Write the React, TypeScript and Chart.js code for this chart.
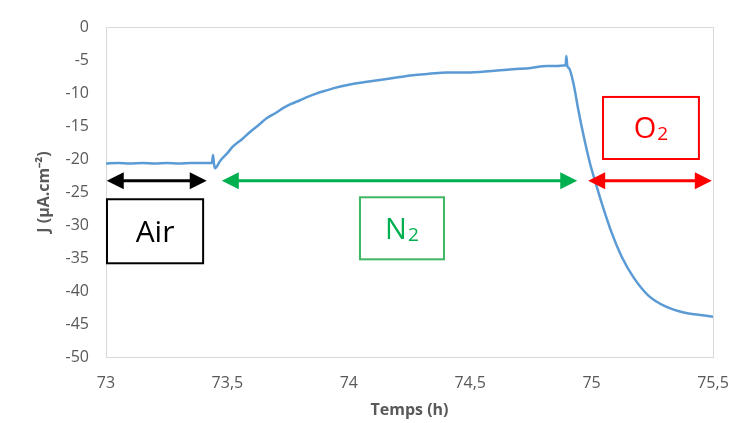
import React, { useEffect, useRef } from "react";
import { Chart, registerables } from "chart.js";

Chart.register(...registerables);

// Time (h) and current density J (µA.cm-2)
const timeH = [
  73.0, 73.05, 73.1, 73.15, 73.2, 73.25, 73.3, 73.35, 73.4, 73.436, 73.441, 73.445, 73.449,
  73.47, 73.5, 73.523, 73.56, 73.593, 73.63, 73.663, 73.7, 73.729, 73.76, 73.799, 73.83,
  73.869, 73.9, 73.935, 74.005, 74.075, 74.17, 74.264, 74.33, 74.404, 74.47, 74.54, 74.61,
  74.676, 74.75, 74.816, 74.86, 74.882, 74.893, 74.896, 74.9, 74.908, 74.925, 74.945, 74.966,
  74.993, 75.014, 75.048, 75.083, 75.124, 75.172, 75.234, 75.302, 75.384, 75.44, 75.5,
];
const currentJ = [
  -20.7, -20.6, -20.7, -20.6, -20.7, -20.6, -20.7, -20.6, -20.6, -20.6, -19.4, -20.8, -21.4,
  -20.3, -19.1, -18.1, -17.0, -15.9, -14.8, -13.8, -13.0, -12.3, -11.7, -11.1, -10.6,
  -10.05, -9.7, -9.3, -8.7, -8.3, -7.8, -7.3, -7.1, -6.9, -6.9, -6.8, -6.6,
  -6.4, -6.2, -5.9, -5.9, -5.85, -5.8, -4.4, -5.9, -6.3, -8.5, -12.5, -16.3,
  -20.6, -23.3, -27.4, -31.2, -34.8, -37.9, -40.7, -42.3, -43.3, -43.6, -43.9,
];

const xTicks = [73, 73.5, 74, 74.5, 75, 75.5];
const yTicks = [0, -5, -10, -15, -20, -25, -30, -35, -40, -45, -50];

// Annotation arrows (gas phases) in data units
const arrowLabels = ["Air", "N2", "O2"];
const arrowStart = [73.003, 73.477, 74.986];
const arrowEnd = [73.415, 74.941, 75.495];
const arrowLevel = -23.3;
const arrowColors = ["#000000", "#00B050", "#FF0000"];

// Annotation boxes in data units
const boxText = ["Air", "N", "O"];
const boxSub = ["", "2", "2"];
const boxX0 = [73.004, 74.046, 75.047];
const boxX1 = [73.4, 74.392, 75.442];
const boxYTop = [-26.1, -25.8, -10.6];
const boxYBottom = [-35.8, -35.2, -20.0];
const boxBorder = ["#000000", "#3DB762", "#FF0000"];
const boxTextColor = ["#000000", "#00B050", "#FF0000"];

const FONT = "'Open Sans', sans-serif";

const framePlugin = {
  id: "frame",
  beforeDatasetsDraw(chart: any) {
    const { ctx, chartArea } = chart;
    ctx.save();
    ctx.strokeStyle = "#D9D9D9";
    ctx.lineWidth = 1;
    ctx.strokeRect(
      Math.round(chartArea.left) + 0.5,
      Math.round(chartArea.top) + 0.5,
      Math.round(chartArea.right - chartArea.left),
      Math.round(chartArea.bottom - chartArea.top)
    );
    ctx.restore();
  },
};

const annotationPlugin = {
  id: "phaseAnnotations",
  afterDatasetsDraw(chart: any) {
    const { ctx } = chart;
    const xs = chart.scales.x;
    const ys = chart.scales.y;
    ctx.save();
    const head = 17;
    const half = 8.5;
    for (let i = 0; i < arrowLabels.length; i++) {
      const x1 = xs.getPixelForValue(arrowStart[i]);
      const x2 = xs.getPixelForValue(arrowEnd[i]);
      const y = ys.getPixelForValue(arrowLevel);
      ctx.strokeStyle = arrowColors[i];
      ctx.fillStyle = arrowColors[i];
      ctx.lineWidth = 3;
      ctx.beginPath();
      ctx.moveTo(x1 + head - 2, y);
      ctx.lineTo(x2 - head + 2, y);
      ctx.stroke();
      ctx.beginPath();
      ctx.moveTo(x1, y);
      ctx.lineTo(x1 + head, y - half);
      ctx.lineTo(x1 + head, y + half);
      ctx.closePath();
      ctx.fill();
      ctx.beginPath();
      ctx.moveTo(x2, y);
      ctx.lineTo(x2 - head, y - half);
      ctx.lineTo(x2 - head, y + half);
      ctx.closePath();
      ctx.fill();
    }
    for (let i = 0; i < boxText.length; i++) {
      const l = xs.getPixelForValue(boxX0[i]);
      const r = xs.getPixelForValue(boxX1[i]);
      const t = ys.getPixelForValue(boxYTop[i]);
      const b = ys.getPixelForValue(boxYBottom[i]);
      ctx.fillStyle = "#FFFFFF";
      ctx.fillRect(l, t, r - l, b - t);
      ctx.strokeStyle = boxBorder[i];
      ctx.lineWidth = 2;
      ctx.strokeRect(l, t, r - l, b - t);
      const mainSize = i === 0 ? 30 : 29;
      const subSize = 19;
      ctx.font = `${mainSize}px ${FONT}`;
      const mainW = ctx.measureText(boxText[i]).width;
      const capH = mainSize * 0.714;
      ctx.font = `${subSize}px ${FONT}`;
      const subW = boxSub[i] ? ctx.measureText(boxSub[i]).width + 1 : 0;
      const total = mainW + subW;
      const cx = (l + r) / 2;
      const cy = (t + b) / 2;
      const baseline = cy + capH / 2;
      ctx.fillStyle = boxTextColor[i];
      ctx.textBaseline = "alphabetic";
      ctx.textAlign = "left";
      ctx.font = `${mainSize}px ${FONT}`;
      ctx.fillText(boxText[i], cx - total / 2, baseline);
      if (boxSub[i]) {
        ctx.font = `${subSize}px ${FONT}`;
        ctx.fillText(boxSub[i], cx - total / 2 + mainW + 1, baseline + 2);
      }
    }
    ctx.restore();
  },
};

export default function App() {
  const canvasRef = useRef<HTMLCanvasElement | null>(null);

  useEffect(() => {
    if (!canvasRef.current) return;
    Chart.defaults.font.family = FONT;
    const points = timeH.map((t, i) => ({ x: t, y: currentJ[i] }));
    const chart = new Chart(canvasRef.current, {
      type: "line",
      data: {
        datasets: [
          {
            label: "J",
            data: points,
            borderColor: "#5B9BD5",
            backgroundColor: "#5B9BD5",
            borderWidth: 2.5,
            pointRadius: 0,
            cubicInterpolationMode: "monotone",
            fill: false,
          },
        ],
      },
      options: {
        responsive: false,
        animation: false,
        layout: { padding: { top: 27, right: 18, left: 0, bottom: 0 } },
        plugins: {
          legend: { display: false },
          tooltip: { enabled: false },
        },
        scales: {
          x: {
            type: "linear",
            min: 73,
            max: 75.5,
            afterBuildTicks: (scale: any) => {
              scale.ticks = xTicks.map((v) => ({ value: v }));
            },
            afterFit: (scale: any) => {
              scale.height = 66;
              scale.paddingLeft = 0;
              scale.paddingRight = 0;
            },
            grid: { display: false, drawTicks: false },
            border: { display: false },
            ticks: {
              color: "#595959",
              font: { size: 16 },
              padding: 17,
              maxRotation: 0,
              callback: (v: any) => String(v).replace(".", ","),
            },
            title: {
              display: true,
              text: "Temps (h)",
              color: "#595959",
              font: { size: 16, weight: "bold" },
              padding: { top: 0, bottom: 3 },
            },
          },
          y: {
            type: "linear",
            min: -50,
            max: 0,
            afterBuildTicks: (scale: any) => {
              scale.ticks = yTicks.map((v) => ({ value: v }));
            },
            afterFit: (scale: any) => {
              scale.width = 106;
              scale.paddingTop = 0;
              scale.paddingBottom = 0;
            },
            grid: { display: false, drawTicks: false },
            border: { display: false },
            ticks: {
              color: "#595959",
              font: { size: 16 },
              padding: 17,
            },
            title: {
              display: true,
              text: "J (µA.cm⁻²)",
              color: "#595959",
              font: { size: 16, weight: "bold" },
              padding: { top: 35, bottom: 0 },
            },
          },
        },
      },
      plugins: [framePlugin, annotationPlugin],
    } as any);
    return () => chart.destroy();
  }, []);

  return (
    <div style={{ position: "fixed", left: 0, top: 0, width: 731, height: 423, background: "#FFFFFF" }}>
      <canvas ref={canvasRef} width={731} height={423} style={{ display: "block" }} />
    </div>
  );
}
